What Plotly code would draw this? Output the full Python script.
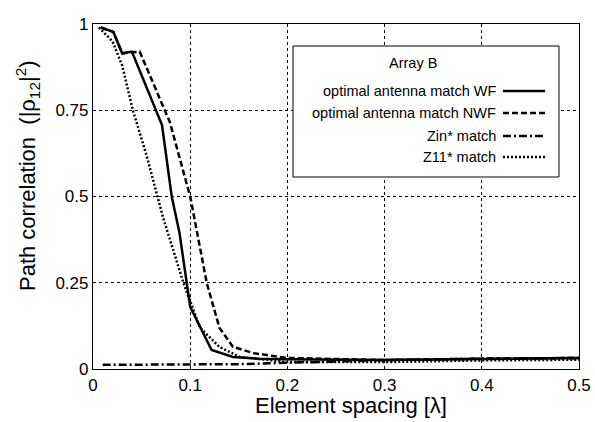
import plotly.graph_objects as go

# ---- data ----
names = ["optimal antenna match WF", "optimal antenna match NWF", "Zin* match", "Z11* match"]
legend_title = "Array B"
x_title = "Element spacing [λ]"
y_title = "Path correlation  (|ρ<sub>12</sub>|<sup>2</sup>)"

x_wf = [0.008, 0.021, 0.03, 0.04, 0.071, 0.081, 0.089, 0.1, 0.122, 0.144, 0.17, 0.2, 0.3, 0.4, 0.5]
y_wf = [0.99, 0.977, 0.915, 0.92, 0.707, 0.5, 0.394, 0.18, 0.055, 0.035, 0.03, 0.028, 0.026, 0.03, 0.032]

x_nwf = [0.008, 0.021, 0.03, 0.048, 0.079, 0.1, 0.117, 0.13, 0.144, 0.165, 0.2, 0.3, 0.4, 0.5]
y_nwf = [0.99, 0.977, 0.915, 0.92, 0.716, 0.5, 0.25, 0.12, 0.064, 0.046, 0.032, 0.026, 0.03, 0.032]

x_zin = [0.01, 0.05, 0.1, 0.15, 0.2, 0.25, 0.3, 0.4, 0.5]
y_zin = [0.012, 0.012, 0.012, 0.014, 0.018, 0.022, 0.026, 0.03, 0.032]

x_z11 = [0.006, 0.02, 0.03, 0.041, 0.055, 0.066, 0.072, 0.093, 0.11, 0.13, 0.151, 0.2, 0.3, 0.4, 0.5]
y_z11 = [0.99, 0.95, 0.88, 0.75, 0.62, 0.5, 0.44, 0.25, 0.12, 0.064, 0.035, 0.02, 0.02, 0.025, 0.027]

x_ticks = [0, 0.1, 0.2, 0.3, 0.4, 0.5]
x_ticklabels = ["0", "0.1", "0.2", "0.3", "0.4", "0.5"]
y_ticks = [0, 0.25, 0.5, 0.75, 1]
y_ticklabels = ["0", "0.25", "0.5", "0.75", "1"]

series = [(x_wf, y_wf), (x_nwf, y_nwf), (x_zin, y_zin), (x_z11, y_z11)]
dashes = ["solid", "6px,3px", "8px,3px,2px,3px", "2px,2px"]

FONT = "Liberation Sans, Arial, sans-serif"

# body margin removed via post_script; plot area target: x 93..579, y 24..369 on page
PL, PR, PT, PB = 93, 579, 24, 369
PW, PH = PR - PL, PB - PT
W, H = 595, 422


def px(x):
    return (x - PL) / PW


def py(y):
    return (PB - y) / PH


fig = go.Figure()
for (xs, ys), nm, d in zip(series, names, dashes):
    fig.add_trace(go.Scatter(x=xs, y=ys, mode="lines", name=nm,
                             line=dict(color="black", width=2.5, dash=d),
                             showlegend=False))

# custom legend box (right-aligned labels, line sample on the right)
lx0, lx1, ly0, ly1 = px(293), px(559), py(177), py(46)
fig.add_shape(type="rect", xref="paper", yref="paper", x0=lx0, x1=lx1, y0=ly0, y1=ly1,
              line=dict(color="black", width=1), fillcolor="white", layer="above")
fig.add_annotation(xref="paper", yref="paper", x=px(413), y=py(63),
                   text=legend_title, showarrow=False, font=dict(size=14.5, color="black", family=FONT),
                   xanchor="center", yanchor="middle")
rows_py = [91, 113, 136, 157]
for nm, d, yy in zip(names, dashes, rows_py):
    yp = py(yy)
    fig.add_annotation(xref="paper", yref="paper", x=px(498), y=yp, text=nm,
                       showarrow=False, xanchor="right", yanchor="middle",
                       font=dict(size=14.5, color="black", family=FONT))
    fig.add_shape(type="line", xref="paper", yref="paper",
                  x0=px(503), x1=px(545), y0=yp, y1=yp,
                  line=dict(color="black", width=2.5, dash=d), layer="above")

# axis titles as annotations for exact placement
fig.add_annotation(xref="paper", yref="paper", x=px(351), y=py(406), text=x_title,
                   showarrow=False, xanchor="center", yanchor="middle",
                   font=dict(size=22, color="black", family=FONT))
fig.add_annotation(xref="paper", yref="paper", x=px(27), y=py(176), text=y_title,
                   showarrow=False, xanchor="center", yanchor="middle", textangle=-90,
                   font=dict(size=22, color="black", family=FONT))

fig.update_layout(
    width=W, height=H, autosize=False,
    margin=dict(l=PL, r=W - PR, t=PT, b=H - PB, autoexpand=False),
    paper_bgcolor="white", plot_bgcolor="white",
    font=dict(family=FONT, color="black"),
    xaxis=dict(range=[0, 0.5], tickvals=x_ticks, ticktext=x_ticklabels, automargin=False,
               tickfont=dict(size=17), showgrid=True, gridcolor="black", griddash="dot", gridwidth=0.7,
               showline=True, linecolor="black", linewidth=1.2, mirror=True, zeroline=False,
               ticks=""),
    yaxis=dict(range=[0, 1], tickvals=y_ticks, ticktext=y_ticklabels, automargin=False,
               tickfont=dict(size=17), showgrid=True, gridcolor="black", griddash="dot", gridwidth=0.7,
               showline=True, linecolor="black", linewidth=1.2, mirror=True, zeroline=False,
               ticks=""),
)

fig.write_html("out.html", config={"displayModeBar": False, "responsive": False},
               post_script="document.body.style.margin='0';document.body.style.overflow='hidden';")
